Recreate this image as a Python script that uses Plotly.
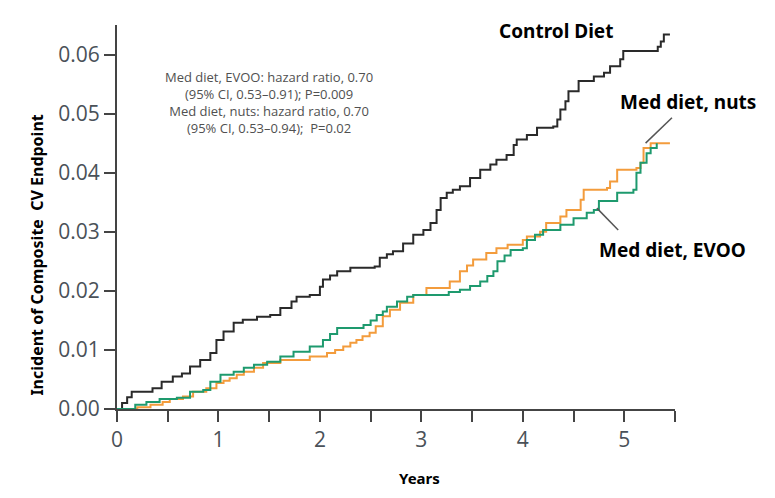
import plotly.graph_objects as go

# Control diet (time in years, cumulative incidence)
control_t = [0, 0.05, 0.10, 0.145, 0.35, 0.44, 0.55, 0.64, 0.72, 0.82, 0.92, 0.98, 1.05, 1.15, 1.24, 1.38,
             1.51, 1.61, 1.72, 1.77, 1.90, 2.00, 2.03, 2.10, 2.17, 2.30, 2.54, 2.59, 2.66, 2.72, 2.82, 2.92,
             3.02, 3.09, 3.15, 3.19, 3.25, 3.31, 3.38, 3.48, 3.58, 3.68, 3.74, 3.84, 3.91, 3.94, 4.04, 4.14,
             4.30, 4.34, 4.37, 4.42, 4.45, 4.55, 4.70, 4.80, 4.86, 4.96, 4.99, 5.33, 5.36, 5.39, 5.45]
control_v = [0, 0.0010, 0.0020, 0.0029, 0.0035, 0.0046, 0.0055, 0.0060, 0.0072, 0.0083, 0.0095, 0.0117, 0.0131, 0.0146, 0.0151, 0.0156,
             0.0159, 0.0171, 0.0182, 0.0190, 0.0193, 0.0207, 0.0219, 0.0226, 0.0233, 0.0239, 0.0241, 0.0256, 0.0262, 0.0267, 0.0280, 0.0295,
             0.0303, 0.0315, 0.0337, 0.0357, 0.0366, 0.0371, 0.0377, 0.0391, 0.0405, 0.0414, 0.0422, 0.0430, 0.0447, 0.0456, 0.0464, 0.0476,
             0.0478, 0.0490, 0.0507, 0.0521, 0.0538, 0.0555, 0.0563, 0.0569, 0.0580, 0.0592, 0.0606, 0.0613, 0.0622, 0.0634, 0.0634]

# Med diet, EVOO
evoo_t = [0, 0.18, 0.29, 0.42, 0.59, 0.72, 0.85, 0.92, 1.02, 1.15, 1.25, 1.35, 1.48, 1.61, 1.74, 1.90,
          2.03, 2.10, 2.17, 2.43, 2.50, 2.56, 2.62, 2.66, 2.76, 2.86, 2.92, 3.27, 3.38, 3.48, 3.58, 3.65,
          3.71, 3.75, 3.82, 3.88, 4.00, 4.04, 4.12, 4.20, 4.37, 4.50, 4.63, 4.70, 4.75, 4.93, 5.09, 5.12,
          5.16, 5.22, 5.26, 5.32]
evoo_v = [0, 0.0007, 0.0012, 0.0017, 0.0019, 0.0029, 0.0032, 0.0046, 0.0058, 0.0063, 0.0070, 0.0075, 0.0080, 0.0089, 0.0097, 0.0106,
          0.0117, 0.0127, 0.0137, 0.0142, 0.0150, 0.0159, 0.0165, 0.0173, 0.0182, 0.0190, 0.0193, 0.0198, 0.0202, 0.0208, 0.0216, 0.0225,
          0.0233, 0.0250, 0.0260, 0.0269, 0.0272, 0.0286, 0.0295, 0.0303, 0.0312, 0.0323, 0.0332, 0.0337, 0.0352, 0.0366, 0.0371, 0.0400,
          0.0417, 0.0433, 0.0442, 0.0450]

# Med diet, nuts
nuts_t = [0, 0.20, 0.33, 0.45, 0.52, 0.65, 0.75, 0.88, 0.98, 1.05, 1.11, 1.18, 1.25, 1.35, 1.44, 1.61,
          1.90, 2.07, 2.15, 2.23, 2.30, 2.36, 2.42, 2.49, 2.55, 2.62, 2.69, 2.79, 2.92, 3.05, 3.28, 3.38,
          3.45, 3.51, 3.64, 3.74, 3.85, 4.00, 4.04, 4.17, 4.23, 4.37, 4.43, 4.57, 4.60, 4.83, 4.86, 4.93,
          5.12, 5.16, 5.19, 5.26, 5.45]
nuts_v = [0, 0.0003, 0.0007, 0.0012, 0.0017, 0.0021, 0.0029, 0.0035, 0.0044, 0.0048, 0.0052, 0.0058, 0.0063, 0.0070, 0.0078, 0.0083,
          0.0089, 0.0095, 0.0100, 0.0106, 0.0112, 0.0117, 0.0123, 0.0129, 0.0140, 0.0157, 0.0168, 0.0180, 0.0193, 0.0205, 0.0216, 0.0233,
          0.0243, 0.0253, 0.0264, 0.0272, 0.0278, 0.0286, 0.0292, 0.0300, 0.0315, 0.0326, 0.0337, 0.0354, 0.0371, 0.0374, 0.0385, 0.0405,
          0.0408, 0.0417, 0.0442, 0.0450, 0.0450]

x_tickvals = [0, 0.5, 1, 1.5, 2, 2.5, 3, 3.5, 4, 4.5, 5, 5.5]
x_ticktext = ["0", "", "1", "", "2", "", "3", "", "4", "", "5", ""]
y_tickvals = [0, 0.01, 0.02, 0.03, 0.04, 0.05, 0.06]
y_ticktext = ["0.00", "0.01", "0.02", "0.03", "0.04", "0.05", "0.06"]

stats_text = ("Med diet, EVOO: hazard ratio, 0.70<br>(95% CI, 0.53–0.91); P=0.009<br>"
              "Med diet, nuts: hazard ratio, 0.70<br>(95% CI, 0.53–0.94);  P=0.02")

fig = go.Figure()
fig.add_trace(go.Scatter(x=control_t, y=control_v, mode="lines", line=dict(shape="hv", color="#2a2a2a", width=2)))
fig.add_trace(go.Scatter(x=nuts_t, y=nuts_v, mode="lines", line=dict(shape="hv", color="#f39c3c", width=2)))
fig.add_trace(go.Scatter(x=evoo_t, y=evoo_v, mode="lines", line=dict(shape="hv", color="#1e9a6e", width=2)))

axis_color = "#444444"
fig.update_layout(
    width=759, height=482,
    margin=dict(l=109, r=92, t=17, b=81),
    plot_bgcolor="white", paper_bgcolor="white",
    showlegend=False,
    xaxis=dict(range=[0, 5.5], tickvals=x_tickvals, ticktext=x_ticktext, ticks="outside", ticklen=11,
               tickwidth=1.5, tickcolor=axis_color, showline=True, linecolor=axis_color, linewidth=2,
               showgrid=False, zeroline=False,
               tickfont=dict(family="Open Sans", size=21, color="#4a5158")),
    yaxis=dict(range=[0, 0.065], tickvals=y_tickvals, ticktext=y_ticktext, ticks="outside", ticklen=11,
               tickwidth=1.5, tickcolor=axis_color, showline=True, linecolor=axis_color, linewidth=2,
               showgrid=False, zeroline=False,
               tickfont=dict(family="Open Sans", size=21, color="#4a5158")),
)

lab = dict(family="Noto Sans", size=19, color="#000000")
ann = [
    dict(text="<b>Incident of Composite  CV Endpoint</b>", xref="paper", yref="paper", x=-0.143, y=0.40,
         xanchor="center", yanchor="middle",
         textangle=-90, showarrow=False, font=dict(family="Noto Sans", size=16, color="#000000")),
    dict(text="<b>Years</b>", xref="paper", yref="paper", x=0.543, y=-0.18, xanchor="center", yanchor="middle",
         showarrow=False, font=dict(family="Noto Sans", size=15, color="#000000")),
    dict(text=stats_text, xref="paper", yref="paper", x=0.272, y=0.797, align="center",
         xanchor="center", yanchor="middle",
         showarrow=False, font=dict(family="Open Sans", size=13, color="#505050")),
    dict(text="<b>Control Diet</b>", xref="paper", yref="paper", x=0.787, y=0.984,
         xanchor="center", yanchor="middle", showarrow=False, font=lab),
    dict(text="<b>Med diet, nuts</b>", xref="paper", yref="paper", x=1.023, y=0.799,
         xanchor="center", yanchor="middle", showarrow=False, font=lab),
    dict(text="<b>Med diet, EVOO</b>", xref="paper", yref="paper", x=0.995, y=0.414,
         xanchor="center", yanchor="middle", showarrow=False, font=lab),
]
fig.update_layout(annotations=ann)

fig.add_shape(type="line", xref="paper", yref="paper", x0=-0.022, y0=0, x1=0, y1=0,
              line=dict(color=axis_color, width=2))
fig.add_shape(type="line", xref="x", yref="y", x0=5.47, y0=0.0493, x1=5.21, y1=0.0450,
              line=dict(color="#555555", width=1.5))
fig.add_shape(type="line", xref="x", yref="y", x0=4.73, y0=0.0340, x1=4.94, y1=0.0303,
              line=dict(color="#555555", width=1.5))

fig.write_html("out.html")
